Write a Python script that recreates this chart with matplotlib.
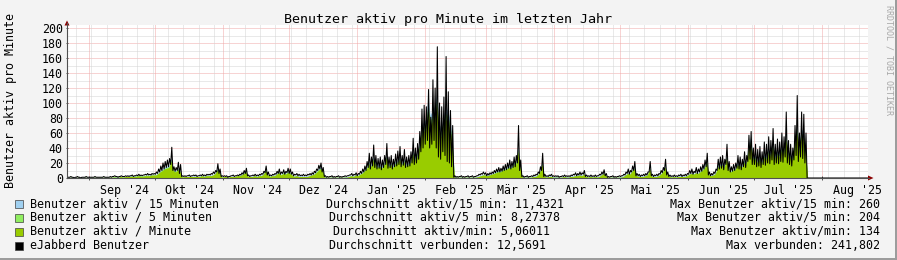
import matplotlib
matplotlib.use("Agg")
import matplotlib.pyplot as plt
import matplotlib.dates as mdates
import numpy as np
import pandas as pd
from matplotlib.patches import Rectangle, Polygon
from matplotlib.lines import Line2D

W, H_PX = 897, 260

START = "2024-08-22"
END = "2025-08-22"

# eJabberd Benutzer, Tageshoch (ein Wert pro Tag ab 22.08.2024)
verbunden_tag = [
    1, 2, 1, 1, 2, 1, 1, 1, 2, 1,
    1, 1, 2, 1, 1, 1, 2, 1, 1, 2, 2, 3, 2, 2, 3, 2, 3, 3, 3, 4, 3, 4, 5, 4, 4, 5, 6, 5, 6, 6,
    8, 12, 16, 20, 22, 24, 26, 41, 15, 14, 21, 18, 3, 3, 3, 4, 3, 4, 4, 3, 4, 5, 4, 5, 5, 6, 8, 10, 19, 12, 3,
    3, 3, 2, 3, 4, 3, 4, 5, 7, 10, 13, 4, 3, 4, 5, 4, 5, 6, 9, 16, 8, 4, 5, 6, 9, 12, 8, 11, 9, 13,
    12, 8, 5, 6, 5, 4, 5, 4, 5, 6, 7, 9, 12, 17, 20, 14, 3, 2, 2, 3, 2, 2, 3, 2, 2, 3, 3, 4, 6, 5, 7,
    6, 9, 12, 16, 22, 33, 28, 44, 30, 26, 28, 24, 30, 46, 28, 30, 25, 32, 36, 42, 30, 38, 28, 30, 35, 53, 40, 46, 62, 92, 97,
    95, 118, 81, 131, 120, 175, 100, 95, 108, 162, 115, 90, 70, 3, 2, 2, 3, 2, 2, 3, 2, 3, 2, 3, 5, 6, 8, 7,
    6, 7, 8, 10, 12, 14, 13, 16, 18, 20, 24, 22, 28, 30, 70, 24, 3, 2, 3, 2, 3, 4, 5, 8, 15, 33, 5, 3, 4, 5, 3,
    3, 3, 2, 3, 4, 3, 3, 4, 5, 7, 6, 8, 7, 10, 4, 3, 4, 3, 4, 3, 5, 8, 11, 6, 2, 2, 3, 2, 2, 3,
    3, 5, 8, 12, 10, 16, 22, 6, 5, 4, 5, 6, 8, 22, 5, 4, 5, 6, 10, 14, 25, 8, 4, 3, 4, 3, 4, 5, 4, 5, 6,
    10, 12, 9, 14, 12, 15, 18, 24, 33, 8, 6, 8, 12, 25, 28, 30, 25, 45, 22, 15, 18, 20, 30, 28, 25, 35, 30, 57, 62, 40,
    45, 38, 42, 35, 48, 45, 55, 50, 66, 45, 52, 48, 60, 55, 88, 50, 45, 40, 70, 110, 60, 88, 85, 60, 0, 0, 0, 0, 0, 0, 0,
    0, 0, 0, 0, 0, 0, 0, 0, 0, 0, 0, 0, 0, 0, 0, 0, 0, 0, 0, 0, 0,
]

# eJabberd Benutzer, Nachttief
verbunden_nacht = [
    1, 1, 1, 0, 1, 1, 0, 1, 1, 1,
    1, 1, 1, 1, 1, 1, 1, 1, 1, 1, 1, 2, 2, 1, 2, 2, 2, 2, 2, 3, 2, 3, 3, 3, 3, 4, 4, 4, 4, 5,
    5, 6, 8, 10, 12, 14, 15, 18, 10, 9, 10, 6, 2, 2, 2, 3, 2, 3, 3, 2, 3, 3, 3, 3, 4, 4, 5, 6, 8, 6, 2,
    2, 2, 1, 2, 3, 2, 3, 3, 4, 5, 6, 3, 2, 3, 3, 3, 3, 4, 5, 7, 4, 3, 3, 4, 5, 6, 5, 6, 5, 7,
    6, 5, 3, 4, 3, 3, 3, 3, 3, 4, 4, 5, 7, 10, 12, 8, 2, 1, 1, 2, 1, 1, 2, 1, 1, 2, 2, 3, 4, 3, 4,
    3, 5, 6, 8, 10, 14, 12, 16, 14, 12, 13, 11, 14, 18, 13, 14, 12, 15, 16, 18, 15, 17, 14, 15, 16, 20, 18, 20, 25, 35, 40,
    45, 50, 40, 45, 50, 40, 28, 25, 35, 30, 22, 20, 15, 1, 1, 1, 2, 1, 1, 2, 1, 2, 1, 2, 3, 4, 5, 5,
    3, 4, 5, 6, 7, 8, 8, 9, 10, 11, 13, 12, 14, 15, 20, 10, 2, 1, 2, 1, 2, 2, 3, 4, 6, 10, 2, 2, 2, 3, 2,
    2, 2, 1, 2, 2, 2, 2, 2, 3, 4, 3, 4, 4, 5, 2, 2, 2, 2, 2, 2, 3, 4, 5, 3, 1, 1, 2, 1, 1, 2,
    2, 3, 4, 6, 5, 8, 10, 3, 3, 2, 3, 3, 4, 8, 3, 2, 3, 3, 5, 7, 10, 4, 2, 2, 2, 2, 2, 3, 2, 3, 3,
    5, 6, 5, 7, 6, 8, 9, 12, 15, 4, 3, 4, 6, 10, 12, 13, 11, 18, 10, 8, 9, 10, 13, 12, 11, 15, 14, 22, 25, 18,
    18, 15, 16, 14, 18, 17, 20, 19, 24, 18, 20, 19, 22, 21, 28, 20, 18, 16, 24, 30, 22, 28, 26, 20, 0, 0, 0, 0, 0, 0, 0,
    0, 0, 0, 0, 0, 0, 0, 0, 0, 0, 0, 0, 0, 0, 0, 0, 0, 0, 0, 0, 0,
]

# Benutzer aktiv / 15 Minuten
aktiv_15 = [
    1, 1, 1, 1, 1, 1, 1, 1, 1, 1,
    1, 1, 1, 1, 1, 1, 1, 1, 1, 1, 1, 2, 2, 2, 2, 2, 2, 2, 3, 3, 3, 3, 4, 3, 3, 4, 4, 4, 5, 5,
    5, 7, 10, 12, 15, 16, 17, 27, 11, 10, 13, 10, 2, 2, 2, 3, 2, 3, 3, 2, 3, 4, 3, 4, 4, 4, 5, 7, 13, 9, 2,
    2, 2, 2, 2, 3, 2, 3, 4, 5, 7, 10, 3, 2, 3, 4, 3, 4, 4, 6, 12, 5, 3, 4, 4, 6, 9, 5, 8, 6, 9,
    8, 5, 3, 4, 3, 3, 3, 3, 3, 4, 5, 6, 9, 12, 15, 10, 2, 1, 1, 2, 1, 1, 2, 1, 1, 2, 2, 3, 4, 3, 5,
    4, 6, 8, 11, 15, 22, 18, 29, 21, 17, 18, 16, 21, 31, 18, 21, 17, 22, 24, 29, 21, 26, 19, 21, 24, 36, 29, 34, 46, 70, 75,
    78, 108, 84, 90, 96, 114, 72, 66, 84, 94, 90, 78, 54, 2, 1, 1, 2, 1, 1, 2, 1, 2, 1, 2, 3, 4, 5, 5,
    4, 5, 6, 7, 9, 10, 10, 12, 13, 15, 17, 16, 21, 22, 42, 15, 2, 1, 2, 1, 2, 3, 3, 5, 10, 22, 3, 2, 3, 3, 2,
    2, 2, 1, 2, 3, 2, 2, 3, 3, 4, 4, 5, 4, 6, 3, 2, 3, 2, 3, 2, 3, 5, 7, 4, 1, 1, 2, 1, 1, 2,
    2, 3, 5, 7, 6, 11, 15, 4, 3, 3, 3, 4, 5, 15, 3, 3, 3, 4, 6, 10, 17, 5, 3, 2, 3, 2, 3, 3, 3, 3, 4,
    6, 7, 6, 8, 7, 10, 12, 16, 24, 5, 4, 5, 7, 17, 19, 20, 17, 31, 14, 10, 12, 13, 20, 19, 17, 24, 22, 46, 54, 30,
    30, 24, 29, 23, 32, 30, 38, 35, 48, 31, 36, 34, 43, 40, 60, 36, 32, 29, 50, 72, 43, 66, 62, 42, 0, 0, 0, 0, 0, 0, 0,
    0, 0, 0, 0, 0, 0, 0, 0, 0, 0, 0, 0, 0, 0, 0, 0, 0, 0, 0, 0, 0,
]

# Benutzer aktiv / 5 Minuten
aktiv_5 = [
    0, 1, 1, 0, 1, 1, 0, 1, 1, 0,
    1, 1, 1, 1, 1, 1, 1, 1, 1, 1, 1, 2, 1, 1, 2, 1, 2, 2, 2, 3, 2, 3, 3, 3, 3, 3, 4, 3, 4, 4,
    4, 6, 9, 11, 13, 14, 15, 24, 10, 9, 12, 9, 1, 2, 2, 2, 2, 2, 2, 2, 2, 3, 2, 3, 3, 3, 4, 6, 11, 8, 1,
    2, 2, 1, 2, 2, 2, 3, 3, 4, 6, 9, 2, 2, 2, 3, 2, 3, 3, 5, 11, 4, 2, 3, 3, 5, 8, 4, 7, 5, 8,
    7, 4, 2, 3, 2, 2, 2, 2, 2, 3, 4, 5, 8, 11, 13, 9, 1, 1, 1, 1, 1, 1, 1, 1, 1, 1, 1, 2, 3, 2, 4,
    3, 5, 7, 10, 13, 20, 16, 26, 19, 15, 16, 14, 19, 28, 16, 19, 15, 20, 22, 26, 19, 23, 17, 19, 22, 33, 26, 31, 42, 64, 68,
    71, 99, 77, 82, 88, 104, 66, 60, 77, 86, 82, 71, 49, 1, 1, 1, 1, 1, 1, 1, 1, 1, 1, 1, 2, 3, 4, 4,
    3, 4, 5, 6, 8, 9, 9, 11, 12, 13, 15, 14, 19, 20, 38, 13, 1, 1, 1, 1, 1, 2, 2, 4, 9, 20, 2, 1, 2, 2, 1,
    1, 1, 1, 1, 2, 1, 1, 2, 2, 3, 3, 4, 3, 5, 2, 1, 2, 1, 2, 1, 2, 4, 6, 3, 1, 1, 1, 1, 1, 1,
    1, 2, 4, 6, 5, 10, 13, 3, 2, 2, 2, 3, 4, 13, 2, 2, 2, 3, 5, 9, 15, 4, 2, 1, 2, 1, 2, 2, 2, 2, 3,
    5, 6, 5, 7, 6, 9, 11, 14, 22, 4, 3, 4, 6, 15, 17, 18, 15, 28, 13, 9, 11, 12, 18, 17, 15, 22, 20, 42, 49, 27,
    27, 22, 26, 21, 29, 27, 35, 32, 44, 28, 33, 31, 39, 36, 55, 33, 29, 26, 46, 66, 39, 60, 57, 38, 0, 0, 0, 0, 0, 0, 0,
    0, 0, 0, 0, 0, 0, 0, 0, 0, 0, 0, 0, 0, 0, 0, 0, 0, 0, 0, 0, 0,
]

# Benutzer aktiv / Minute
aktiv_min = [
    0, 1, 0, 0, 1, 0, 0, 0, 1, 0,
    0, 0, 1, 0, 0, 0, 1, 0, 0, 1, 1, 1, 1, 1, 2, 1, 2, 2, 2, 2, 2, 2, 3, 2, 2, 3, 3, 3, 4, 4,
    4, 6, 8, 10, 12, 13, 14, 22, 9, 8, 11, 8, 1, 2, 2, 2, 2, 2, 2, 2, 2, 3, 2, 3, 3, 3, 4, 6, 10, 7, 1,
    2, 2, 1, 2, 2, 2, 3, 3, 4, 6, 8, 2, 2, 2, 3, 2, 3, 3, 5, 10, 4, 2, 3, 3, 5, 7, 4, 6, 5, 7,
    6, 4, 2, 3, 2, 2, 2, 2, 2, 3, 4, 5, 7, 10, 12, 8, 1, 1, 1, 1, 1, 1, 1, 1, 1, 1, 1, 2, 3, 2, 4,
    3, 5, 6, 9, 12, 18, 15, 24, 17, 14, 15, 13, 17, 26, 15, 17, 14, 18, 20, 24, 17, 21, 16, 17, 20, 30, 24, 28, 38, 58, 62,
    65, 90, 70, 75, 80, 95, 60, 55, 70, 78, 75, 65, 45, 1, 1, 1, 1, 1, 1, 1, 1, 1, 1, 1, 2, 3, 4, 4,
    3, 4, 5, 6, 7, 8, 8, 10, 11, 12, 14, 13, 17, 18, 35, 12, 1, 1, 1, 1, 1, 2, 2, 4, 8, 18, 2, 1, 2, 2, 1,
    1, 1, 1, 1, 2, 1, 1, 2, 2, 3, 3, 4, 3, 5, 2, 1, 2, 1, 2, 1, 2, 4, 6, 3, 1, 1, 1, 1, 1, 1,
    1, 2, 4, 6, 5, 9, 12, 3, 2, 2, 2, 3, 4, 12, 2, 2, 2, 3, 5, 8, 14, 4, 2, 1, 2, 1, 2, 2, 2, 2, 3,
    5, 6, 5, 7, 6, 8, 10, 13, 20, 4, 3, 4, 6, 14, 16, 17, 14, 26, 12, 8, 10, 11, 17, 16, 14, 20, 18, 38, 45, 25,
    25, 20, 24, 19, 27, 25, 32, 29, 40, 26, 30, 28, 36, 33, 50, 30, 27, 24, 42, 60, 36, 55, 52, 35, 0, 0, 0, 0, 0, 0, 0,
    0, 0, 0, 0, 0, 0, 0, 0, 0, 0, 0, 0, 0, 0, 0, 0, 0, 0, 0, 0, 0,
]

monat_labels = ["Sep '24", "Okt '24", "Nov '24", "Dez '24", "Jan '25", "Feb '25",
                "Mär '25", "Apr '25", "Mai '25", "Jun '25", "Jul '25", "Aug '25"]

y_ticks = [0, 20, 40, 60, 80, 100, 120, 140, 160, 180, 200]

legend_rows = [
    ("Benutzer aktiv / 15 Minuten", "Durchschnitt aktiv/15 min: 11,4321", "Max Benutzer aktiv/15 min: 260"),
    ("Benutzer aktiv / 5 Minuten", "Durchschnitt aktiv/5 min: 8,27378", "Max Benutzer aktiv/5 min: 204"),
    ("Benutzer aktiv / Minute", "Durchschnitt aktiv/min: 5,06011", "Max Benutzer aktiv/min: 134"),
    ("eJabberd Benutzer", "Durchschnitt verbunden: 12,5691", "Max verbunden: 241,802"),
]

C_15 = "#a0d0f0"
C_5 = "#90ee60"
C_MIN = "#99cc00"
C_LINE = "#000000"
C_BACK = "#f3f3f3"
C_GRID = "#d4d4d4"
C_MGRID = "#f0a8a8"
C_AXIS = "#505050"
C_ARROW = "#8b0000"
MONO = "DejaVu Sans Mono"


def fx(px):
    return px / W


def fy(py):
    return 1 - py / H_PX


days = pd.date_range(START, periods=len(verbunden_tag), freq="D")
t_mid = mdates.date2num(days + pd.Timedelta(hours=12))
t_pair = np.empty(2 * len(days))
t_pair[0::2] = mdates.date2num(days + pd.Timedelta(hours=6))
t_pair[1::2] = mdates.date2num(days + pd.Timedelta(hours=18))
v_pair = np.empty(2 * len(days))
v_pair[0::2] = verbunden_nacht
v_pair[1::2] = verbunden_tag

fig = plt.figure(figsize=(W / 100, H_PX / 100), dpi=100)
fig.patch.set_facecolor(C_BACK)

ax = fig.add_axes([fx(67), fy(178), fx(868) - fx(67), fy(25) - fy(178)])
ax.set_facecolor("white")
x0 = mdates.date2num(pd.Timestamp(START))
x1 = mdates.date2num(pd.Timestamp(END))
ax.set_xlim(x0, x1)
ax.set_ylim(0, 204)
for s in ax.spines.values():
    s.set_visible(False)

dot = (0, (1, 1))
for v in range(10, 201, 10):
    major = v % 20 == 0
    ax.axhline(v, color=C_MGRID if major else C_GRID, lw=0.72, ls=dot, zorder=1)

weeks = pd.date_range(START, END, freq="W-MON")
for wk in weeks:
    ax.axvline(mdates.date2num(wk), color=C_GRID, lw=0.72, ls=dot, zorder=1)
month_starts = pd.date_range("2024-09-01", "2025-08-01", freq="MS")
for ms in month_starts:
    ax.axvline(mdates.date2num(ms), color=C_MGRID, lw=0.72, ls=dot, zorder=1)

ax.fill_between(t_mid, aktiv_15, color=C_15, lw=0, zorder=2)
ax.fill_between(t_mid, aktiv_5, color=C_5, lw=0, zorder=2)
ax.fill_between(t_mid, aktiv_min, color=C_MIN, lw=0, zorder=2)
ax.plot(t_pair, v_pair, color=C_LINE, lw=0.75, zorder=3)

ax.set_yticks(y_ticks)
ax.set_yticklabels([str(v) for v in y_ticks], fontfamily=MONO, fontsize=8.4)
ax.set_xticks(mdates.date2num(month_starts))
ax.set_xticklabels([])
ax.set_xticks(mdates.date2num(month_starts + pd.Timedelta(days=16)), minor=True)
ax.set_xticklabels(monat_labels, minor=True, fontfamily=MONO, fontsize=8.4)
ax.tick_params(axis="y", length=2, width=0.7, color=C_AXIS, pad=2, direction="inout")
ax.tick_params(axis="x", which="major", length=3, width=0.7, color=C_AXIS, direction="inout")
ax.tick_params(axis="x", which="minor", length=0, pad=4)

# Achsen mit Pfeilen
fig.add_artist(Line2D([fx(67), fx(67)], [fy(178), fy(23)], color=C_AXIS, lw=0.8))
fig.add_artist(Line2D([fx(67), fx(869)], [fy(178), fy(178)], color=C_AXIS, lw=0.8))
fig.add_artist(Polygon([[fx(64.5), fy(25.5)], [fx(69.5), fy(25.5)], [fx(67), fy(20.5)]],
                       closed=True, color=C_ARROW, lw=0))
fig.add_artist(Polygon([[fx(868), fy(175.5)], [fx(868), fy(180.5)], [fx(873.5), fy(178)]],
                       closed=True, color=C_ARROW, lw=0))

# Rahmen
fig.add_artist(Rectangle((fx(895), 0), fx(2), 1, color="#9c9c9c", lw=0))
fig.add_artist(Rectangle((0, 0), 1, 2 / H_PX, color="#9c9c9c", lw=0))

fig.text(fx(448), fy(19), "Benutzer aktiv pro Minute im letzten Jahr",
         ha="center", va="center", fontfamily=MONO, fontsize=9.6)
fig.text(fx(11), fy(100), "Benutzer aktiv pro Minute", rotation=90,
         ha="center", va="center", fontfamily=MONO, fontsize=8.4)
fig.text(fx(889), fy(5), "RRDTOOL / TOBI OETIKER", rotation=270,
         ha="center", va="top", fontfamily=MONO, fontsize=6, color="#a8a8a8")

renderer = fig.canvas.get_renderer()
row_y = [204, 217.5, 231.5, 245.5]
colors = [C_15, C_5, C_MIN, C_LINE]
for (left, mid, right), y, c in zip(legend_rows, row_y, colors):
    fig.add_artist(Rectangle((fx(15), fy(y + 4)), fx(8), 8 / H_PX,
                             facecolor=c, edgecolor="#404040", lw=0.5))
    t1 = fig.text(fx(30), fy(y), left, ha="left", va="center", fontfamily=MONO, fontsize=8.4)
    t3 = fig.text(fx(880), fy(y), right, ha="right", va="center", fontfamily=MONO, fontsize=8.4)
    w1 = t1.get_window_extent(renderer).width
    w3 = t3.get_window_extent(renderer).width
    centre = (30 + w1 + 880 - w3) / 2
    fig.text(fx(centre), fy(y), mid, ha="center", va="center", fontfamily=MONO, fontsize=8.4)

fig.savefig("out.png", dpi=100, facecolor=C_BACK)
